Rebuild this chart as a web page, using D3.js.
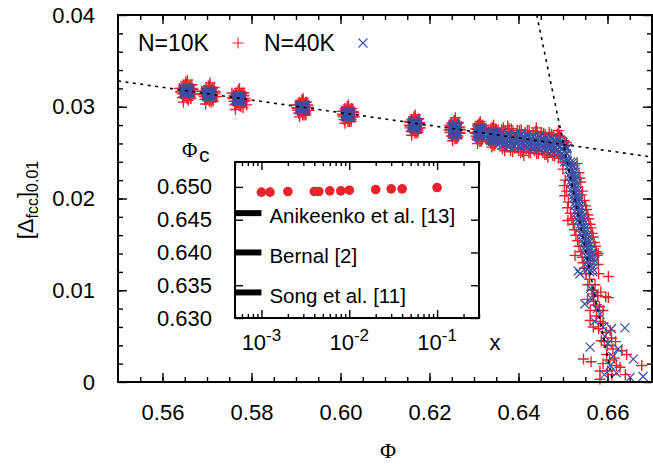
<!DOCTYPE html>
<html>
<head>
<meta charset="utf-8">
<script src="https://cdn.jsdelivr.net/npm/d3@7"></script>
<style>
  body { margin: 0; background: #fff; }
  text { font-family: "Liberation Sans", Arial, Helvetica, sans-serif; fill: #000; }
</style>
</head>
<body>
<div id="chart"></div>
<script>
// ---- data ----
var phiTicks = [0.56, 0.58, 0.60, 0.62, 0.64, 0.66];
var deltaTicks = [0, 0.01, 0.02, 0.03, 0.04];

// N=10K runs, [phi, [Delta_fcc]_0.01]
var n10k = [
  // phi ~ 0.5655
  [0.5655,0.0317],[0.5648,0.0321],[0.5662,0.0313],[0.5641,0.0316],[0.5669,0.0319],[0.5652,0.0327],[0.5658,0.0307],[0.5645,0.0310],
  [0.5666,0.0324],[0.5638,0.0320],[0.5672,0.0314],[0.5650,0.0313],[0.5660,0.0321],[0.5656,0.0329],[0.5647,0.0305],[0.5664,0.0309],
  [0.5668,0.0317],[0.5666,0.0320],[0.5662,0.0323],[0.5655,0.0325],[0.5648,0.0323],[0.5644,0.0320],[0.5642,0.0317],[0.5644,0.0314],
  [0.5648,0.0311],[0.5655,0.0309],[0.5662,0.0311],[0.5666,0.0314],
  // phi ~ 0.5705
  [0.5705,0.0314],[0.5698,0.0318],[0.5712,0.0310],[0.5691,0.0313],[0.5719,0.0316],[0.5703,0.0323],[0.5709,0.0305],[0.5695,0.0308],
  [0.5716,0.0321],[0.5688,0.0317],[0.5722,0.0311],[0.5701,0.0309],[0.5710,0.0319],[0.5707,0.0326],[0.5697,0.0303],[0.5714,0.0306],
  [0.5718,0.0314],[0.5716,0.0317],[0.5712,0.0320],[0.5705,0.0322],[0.5698,0.0320],[0.5694,0.0317],[0.5692,0.0314],[0.5694,0.0311],
  [0.5698,0.0308],[0.5705,0.0306],[0.5712,0.0308],[0.5716,0.0311],
  // phi ~ 0.577
  [0.5772,0.0309],[0.5765,0.0313],[0.5779,0.0305],[0.5758,0.0310],[0.5786,0.0307],[0.5770,0.0318],[0.5776,0.0300],[0.5762,0.0302],
  [0.5783,0.0315],[0.5756,0.0315],[0.5789,0.0302],[0.5768,0.0304],[0.5777,0.0313],[0.5773,0.0320],[0.5764,0.0297],[0.5781,0.0299],
  [0.5785,0.0309],[0.5783,0.0312],[0.5779,0.0315],[0.5772,0.0317],[0.5765,0.0315],[0.5761,0.0312],[0.5759,0.0309],[0.5761,0.0306],
  [0.5765,0.0303],[0.5772,0.0301],[0.5779,0.0303],[0.5783,0.0306],
  // phi ~ 0.5915
  [0.5915,0.0299],[0.5909,0.0303],[0.5921,0.0295],[0.5903,0.0298],[0.5927,0.0301],[0.5913,0.0307],[0.5918,0.0291],[0.5906,0.0293],
  [0.5924,0.0305],[0.5900,0.0302],[0.5929,0.0296],[0.5911,0.0295],[0.5919,0.0303],[0.5916,0.0309],[0.5908,0.0289],[0.5922,0.0291],
  [0.5928,0.0299],[0.5926,0.0302],[0.5922,0.0305],[0.5915,0.0307],[0.5908,0.0305],[0.5904,0.0302],[0.5902,0.0299],[0.5904,0.0296],
  [0.5908,0.0293],[0.5915,0.0291],[0.5922,0.0293],[0.5926,0.0296],
  // phi ~ 0.6017
  [0.6017,0.0292],[0.6011,0.0296],[0.6023,0.0288],[0.6005,0.0291],[0.6029,0.0294],[0.6015,0.0300],[0.6020,0.0284],[0.6008,0.0286],
  [0.6026,0.0298],[0.6003,0.0295],[0.6031,0.0289],[0.6013,0.0288],[0.6021,0.0296],[0.6018,0.0302],[0.6010,0.0282],[0.6024,0.0284],
  [0.6030,0.0292],[0.6028,0.0295],[0.6024,0.0298],[0.6017,0.0300],[0.6010,0.0298],[0.6006,0.0295],[0.6004,0.0292],[0.6006,0.0289],
  [0.6010,0.0286],[0.6017,0.0284],[0.6024,0.0286],[0.6028,0.0289],
  // phi ~ 0.6167
  [0.6167,0.0280],[0.6161,0.0284],[0.6173,0.0276],[0.6156,0.0279],[0.6178,0.0282],[0.6165,0.0289],[0.6170,0.0271],[0.6159,0.0273],
  [0.6176,0.0287],[0.6154,0.0284],[0.6180,0.0277],[0.6163,0.0275],[0.6171,0.0285],[0.6168,0.0291],[0.6160,0.0269],[0.6174,0.0272],
  [0.6180,0.0280],[0.6178,0.0283],[0.6174,0.0286],[0.6167,0.0288],[0.6160,0.0286],[0.6156,0.0283],[0.6154,0.0280],[0.6156,0.0277],
  [0.6160,0.0274],[0.6167,0.0272],[0.6174,0.0274],[0.6178,0.0277],
  // phi ~ 0.6257
  [0.6257,0.0275],[0.6251,0.0279],[0.6263,0.0271],[0.6247,0.0274],[0.6267,0.0277],[0.6255,0.0285],[0.6260,0.0265],[0.6250,0.0268],
  [0.6265,0.0283],[0.6245,0.0280],[0.6269,0.0271],[0.6254,0.0270],[0.6261,0.0281],[0.6258,0.0288],[0.6252,0.0263],[0.6263,0.0266],
  [0.6270,0.0275],[0.6268,0.0278],[0.6264,0.0282],[0.6257,0.0285],[0.6250,0.0282],[0.6246,0.0278],[0.6244,0.0275],[0.6246,0.0272],
  [0.6250,0.0268],[0.6257,0.0265],[0.6264,0.0268],[0.6268,0.0272],
  // phi ~ 0.6313 and 0.6343
  [0.6313,0.0272],[0.6308,0.0276],[0.6318,0.0268],[0.6303,0.0271],[0.6322,0.0274],[0.6311,0.0281],[0.6316,0.0262],[0.6306,0.0265],
  [0.6320,0.0279],[0.6309,0.0267],[0.6317,0.0277],[0.6314,0.0284],[0.6308,0.0260],
  [0.6324,0.0272],[0.6322,0.0276],[0.6318,0.0280],[0.6313,0.0282],[0.6308,0.0280],[0.6304,0.0276],[0.6302,0.0272],[0.6304,0.0268],
  [0.6308,0.0264],[0.6313,0.0262],[0.6318,0.0264],[0.6322,0.0268],
  [0.6343,0.0268],[0.6338,0.0272],[0.6348,0.0264],[0.6334,0.0267],[0.6352,0.0270],[0.6341,0.0277],[0.6346,0.0258],[0.6337,0.0261],
  [0.6350,0.0275],[0.6339,0.0263],[0.6347,0.0273],[0.6344,0.0280],[0.6340,0.0256],
  [0.6354,0.0268],[0.6352,0.0272],[0.6348,0.0276],[0.6343,0.0278],[0.6338,0.0276],[0.6334,0.0272],[0.6332,0.0268],[0.6334,0.0264],
  [0.6338,0.0260],[0.6343,0.0258],[0.6348,0.0260],[0.6352,0.0264],
  // plateau band up to the knee
  [0.6362,0.0275],[0.6370,0.0273],[0.6379,0.0276],[0.6388,0.0272],[0.6397,0.0274],[0.6406,0.0275],[0.6415,0.0272],[0.6424,0.0274],
  [0.6433,0.0271],[0.6442,0.0273],[0.6451,0.0272],[0.6460,0.0270],[0.6469,0.0272],[0.6478,0.0269],[0.6487,0.0270],[0.6495,0.0267],
  [0.6503,0.0263],[0.6511,0.0258],
  [0.6364,0.0254],[0.6373,0.0256],[0.6382,0.0252],[0.6391,0.0255],[0.6400,0.0253],[0.6409,0.0251],[0.6418,0.0254],[0.6427,0.0250],
  [0.6436,0.0252],[0.6445,0.0249],[0.6454,0.0251],[0.6463,0.0248],[0.6472,0.0250],[0.6481,0.0246],[0.6490,0.0244],
  [0.6366,0.0277],[0.6384,0.0276],[0.6402,0.0274],[0.6420,0.0274],[0.6438,0.0273],[0.6456,0.0271],[0.6474,0.0270],[0.6492,0.0268],
  [0.6507,0.0261],
  [0.6369,0.0252],[0.6387,0.0251],[0.6405,0.0250],[0.6423,0.0250],[0.6441,0.0249],[0.6459,0.0248],[0.6477,0.0247],[0.6495,0.0244],
  [0.6500,0.0240],
  [0.6376,0.0279],[0.6412,0.0247],[0.6440,0.0277],[0.6466,0.0245],[0.6490,0.0274],[0.6357,0.0262],[0.6359,0.0270],
  // steep drop
  [0.6532,0.0238],[0.6536,0.0228],[0.6540,0.0218],[0.6544,0.0208],[0.6548,0.0198],[0.6553,0.0188],[0.6558,0.0178],[0.6563,0.0168],
  [0.6568,0.0158],[0.6573,0.0148],[0.6577,0.0138],[0.6579,0.0128],[0.6580,0.0118],
  [0.6500,0.0232],[0.6505,0.0220],[0.6508,0.0208],[0.6512,0.0196],[0.6517,0.0184],[0.6523,0.0172],[0.6529,0.0160],[0.6536,0.0148],
  [0.6543,0.0136],[0.6548,0.0124],
  [0.6538,0.0222],[0.6542,0.0204],[0.6551,0.0192],[0.6556,0.0182],[0.6561,0.0172],[0.6566,0.0162],[0.6570,0.0152],[0.6575,0.0142],
  [0.6503,0.0214],[0.6510,0.0190],[0.6520,0.0178],[0.6526,0.0166],[0.6533,0.0154],[0.6540,0.0142],[0.6545,0.0130],[0.6552,0.0118],
  [0.6511,0.0176],[0.6527,0.0138],[0.6579,0.0140],[0.6602,0.0115],[0.6504,0.0203],
  [0.6560,0.0112],[0.6572,0.0106],[0.6565,0.0100],[0.6578,0.0094],[0.6602,0.0092],[0.6569,0.0088],[0.6582,0.0082],[0.6561,0.0078],
  [0.6575,0.0072],[0.6561,0.0067],[0.6590,0.0064],[0.6580,0.0058],[0.6597,0.0054],[0.6609,0.0048],[0.6586,0.0045],[0.6600,0.0040],
  [0.6612,0.0036],[0.6632,0.0034],[0.6643,0.0030],[0.6546,0.0025],[0.6563,0.0022],[0.6605,0.0024],[0.6620,0.0018],[0.6583,0.0012],
  [0.6628,0.0016],[0.6677,0.0018],[0.6583,0.0003],[0.6610,0.0008],[0.6598,0.0030],
  [0.6556,0.0106],[0.6567,0.0096],[0.6585,0.0098],[0.6573,0.0084],[0.6590,0.0078],[0.6568,0.0060],[0.6584,0.0066],[0.6593,0.0044],
  [0.6606,0.0056],[0.6618,0.0044],[0.6590,0.0020],[0.6616,0.0026],[0.6600,0.0012],[0.6640,0.0008],[0.6596,0.0093],[0.6555,0.0090]
];

// N=40K runs
var n40k = [
  [0.5649,0.0314],[0.5653,0.0314],[0.5657,0.0314],[0.5661,0.0314],[0.5649,0.0316],[0.5653,0.0316],[0.5657,0.0316],[0.5661,0.0316],
  [0.5649,0.0318],[0.5653,0.0318],[0.5657,0.0318],[0.5661,0.0318],[0.5649,0.0320],[0.5653,0.0320],[0.5657,0.0320],[0.5661,0.0320],
  [0.5699,0.0311],[0.5703,0.0311],[0.5707,0.0311],[0.5711,0.0311],[0.5699,0.0313],[0.5703,0.0313],[0.5707,0.0313],[0.5711,0.0313],
  [0.5699,0.0315],[0.5703,0.0315],[0.5707,0.0315],[0.5711,0.0315],[0.5699,0.0317],[0.5703,0.0317],[0.5707,0.0317],[0.5711,0.0317],
  [0.5766,0.0306],[0.5770,0.0306],[0.5774,0.0306],[0.5778,0.0306],[0.5766,0.0308],[0.5770,0.0308],[0.5774,0.0308],[0.5778,0.0308],
  [0.5766,0.0310],[0.5770,0.0310],[0.5774,0.0310],[0.5778,0.0310],[0.5766,0.0312],[0.5770,0.0312],[0.5774,0.0312],[0.5778,0.0312],
  [0.5909,0.0296],[0.5913,0.0296],[0.5917,0.0296],[0.5921,0.0296],[0.5909,0.0298],[0.5913,0.0298],[0.5917,0.0298],[0.5921,0.0298],
  [0.5909,0.0300],[0.5913,0.0300],[0.5917,0.0300],[0.5921,0.0300],[0.5909,0.0302],[0.5913,0.0302],[0.5917,0.0302],[0.5921,0.0302],
  [0.6011,0.0289],[0.6015,0.0289],[0.6019,0.0289],[0.6023,0.0289],[0.6011,0.0291],[0.6015,0.0291],[0.6019,0.0291],[0.6023,0.0291],
  [0.6011,0.0293],[0.6015,0.0293],[0.6019,0.0293],[0.6023,0.0293],[0.6011,0.0295],[0.6015,0.0295],[0.6019,0.0295],[0.6023,0.0295],
  [0.6161,0.0277],[0.6165,0.0277],[0.6169,0.0277],[0.6173,0.0277],[0.6161,0.0279],[0.6165,0.0279],[0.6169,0.0279],[0.6173,0.0279],
  [0.6161,0.0281],[0.6165,0.0281],[0.6169,0.0281],[0.6173,0.0281],[0.6161,0.0283],[0.6165,0.0283],[0.6169,0.0283],[0.6173,0.0283],
  [0.6167,0.0285],[0.6167,0.0275],
  [0.6251,0.0270],[0.6255,0.0270],[0.6259,0.0270],[0.6263,0.0270],[0.6251,0.0273],[0.6255,0.0273],[0.6259,0.0273],[0.6263,0.0273],
  [0.6251,0.0276],[0.6255,0.0276],[0.6259,0.0276],[0.6263,0.0276],[0.6251,0.0279],[0.6255,0.0279],[0.6259,0.0279],[0.6263,0.0279],
  [0.6257,0.0282],[0.6257,0.0267],
  [0.6307,0.0268],[0.6311,0.0268],[0.6315,0.0268],[0.6319,0.0268],[0.6307,0.0271],[0.6311,0.0271],[0.6315,0.0271],[0.6319,0.0271],
  [0.6307,0.0274],[0.6311,0.0274],[0.6315,0.0274],[0.6319,0.0274],[0.6307,0.0277],[0.6311,0.0277],[0.6315,0.0277],[0.6319,0.0277],
  [0.6337,0.0263],[0.6341,0.0263],[0.6345,0.0263],[0.6349,0.0263],[0.6337,0.0266],[0.6341,0.0266],[0.6345,0.0266],[0.6349,0.0266],
  [0.6337,0.0269],[0.6341,0.0269],[0.6345,0.0269],[0.6349,0.0269],[0.6337,0.0272],[0.6341,0.0272],[0.6345,0.0272],[0.6349,0.0272],
  // plateau band
  [0.6360,0.0269],[0.6360,0.0265],[0.6360,0.0261],[0.6367,0.0268],[0.6367,0.0264],[0.6367,0.0260],[0.6374,0.0268],[0.6374,0.0264],[0.6374,0.0260],
  [0.6381,0.0268],[0.6381,0.0264],[0.6381,0.0260],[0.6388,0.0267],[0.6388,0.0263],[0.6388,0.0259],[0.6395,0.0268],[0.6395,0.0263],[0.6395,0.0259],
  [0.6402,0.0267],[0.6402,0.0263],[0.6402,0.0258],[0.6409,0.0267],[0.6409,0.0262],[0.6409,0.0258],[0.6416,0.0266],[0.6416,0.0262],[0.6416,0.0258],
  [0.6423,0.0266],[0.6423,0.0262],[0.6423,0.0258],[0.6430,0.0266],[0.6430,0.0261],[0.6430,0.0257],[0.6437,0.0265],[0.6437,0.0261],[0.6437,0.0257],
  [0.6444,0.0265],[0.6444,0.0261],[0.6444,0.0257],[0.6451,0.0265],[0.6451,0.0260],[0.6451,0.0256],[0.6458,0.0264],[0.6458,0.0260],[0.6458,0.0256],
  [0.6465,0.0264],[0.6465,0.0260],[0.6465,0.0255],[0.6472,0.0263],[0.6472,0.0259],[0.6472,0.0255],[0.6479,0.0263],[0.6479,0.0258],[0.6479,0.0254],
  [0.6486,0.0262],[0.6486,0.0258],[0.6486,0.0253],[0.6492,0.0261],[0.6492,0.0256],[0.6492,0.0251],[0.6498,0.0259],[0.6498,0.0254],[0.6498,0.0249],
  [0.6503,0.0257],[0.6503,0.0252],[0.6503,0.0246],[0.6508,0.0254],[0.6508,0.0249],[0.6508,0.0243],
  [0.6363,0.0272],[0.6377,0.0271],[0.6391,0.0270],[0.6405,0.0270],[0.6419,0.0269],[0.6433,0.0268],[0.6447,0.0268],[0.6461,0.0267],
  [0.6475,0.0266],[0.6489,0.0264],[0.6500,0.0261],[0.6510,0.0255],
  [0.6363,0.0258],[0.6377,0.0257],[0.6391,0.0257],[0.6405,0.0256],[0.6419,0.0255],[0.6433,0.0254],[0.6447,0.0254],[0.6461,0.0253],
  [0.6475,0.0252],[0.6489,0.0250],[0.6500,0.0247],[0.6510,0.0241],
  // steep drop, dense part
  [0.6503,0.0240],[0.6510,0.0240],[0.6517,0.0240],[0.6523,0.0240],[0.6513,0.0232],[0.6520,0.0232],[0.6527,0.0232],
  [0.6515,0.0224],[0.6522,0.0224],[0.6529,0.0224],[0.6518,0.0216],[0.6525,0.0216],[0.6531,0.0216],
  [0.6520,0.0208],[0.6527,0.0208],[0.6533,0.0208],[0.6523,0.0200],[0.6530,0.0200],[0.6536,0.0200],
  [0.6526,0.0192],[0.6533,0.0192],[0.6539,0.0192],[0.6530,0.0184],[0.6537,0.0184],[0.6543,0.0184],
  [0.6534,0.0176],[0.6541,0.0176],[0.6547,0.0176],[0.6538,0.0168],[0.6545,0.0168],[0.6551,0.0168],
  [0.6542,0.0160],[0.6549,0.0160],[0.6555,0.0160],[0.6546,0.0152],[0.6553,0.0152],[0.6558,0.0152],
  [0.6550,0.0144],[0.6557,0.0144],[0.6562,0.0144],[0.6554,0.0136],[0.6561,0.0136],[0.6566,0.0136],
  [0.6557,0.0128],[0.6564,0.0128],[0.6560,0.0120],[0.6567,0.0120],
  [0.6514,0.0236],[0.6522,0.0236],[0.6517,0.0228],[0.6525,0.0228],[0.6519,0.0220],[0.6527,0.0220],[0.6522,0.0212],[0.6530,0.0212],
  [0.6524,0.0204],[0.6532,0.0204],[0.6527,0.0196],[0.6535,0.0196],[0.6531,0.0188],[0.6539,0.0188],[0.6535,0.0180],[0.6543,0.0180],
  [0.6539,0.0172],[0.6547,0.0172],[0.6543,0.0164],[0.6551,0.0164],[0.6547,0.0156],[0.6555,0.0156],[0.6551,0.0148],[0.6559,0.0148],
  [0.6555,0.0140],[0.6563,0.0140],[0.6557,0.0132],[0.6565,0.0132],[0.6558,0.0124],[0.6566,0.0124],
  // steep drop, scattered tail
  [0.6534,0.0121],[0.6538,0.0118],[0.6572,0.0132],[0.6549,0.0085],[0.6562,0.0102],[0.6570,0.0096],[0.6566,0.0090],[0.6577,0.0080],
  [0.6583,0.0074],[0.6571,0.0066],[0.6590,0.0060],[0.6594,0.0050],[0.6609,0.0058],[0.6639,0.0059],[0.6561,0.0038],[0.6601,0.0042],
  [0.6624,0.0036],[0.6658,0.0025],[0.6612,0.0028],[0.6606,0.0018],[0.6651,0.0005],[0.6680,0.0006],[0.6620,0.0010],[0.6593,0.0008]
];

// dotted guide lines
var plateauFit = [[0.55, 0.03281], [0.67, 0.02452]];
var dropFit = [[0.6441, 0.04], [0.6612, 0.0]];

// inset: phi_c against x
var insetX = [0.001, 0.00125, 0.002, 0.004, 0.0045, 0.006, 0.008, 0.01, 0.02, 0.03, 0.04, 0.1];
var insetPhiC = [0.6492, 0.6492, 0.6493, 0.6493, 0.6493, 0.6494, 0.6494, 0.6495, 0.6496, 0.6497, 0.6497, 0.6499];
var refNames = ["Anikeenko et al. [13]", "Bernal [2]", "Song et al. [11]"];
var refPhi = [0.6460, 0.6400, 0.6339];
var insetPhiTicks = [0.630, 0.635, 0.640, 0.645, 0.650];
var insetXTicks = [1e-3, 1e-2, 1e-1];

// ---- drawing ----
var W = 653, H = 464;
var red = "#e8232b", blue = "#3b4ea4";

var svg = d3.select("#chart").append("svg")
    .attr("width", W).attr("height", H);

var x = d3.scaleLinear().domain([0.55, 0.67]).range([118, 652]);
var y = d3.scaleLinear().domain([0, 0.04]).range([382, 15]);

var plusPath = "M-5.5,0H5.5M0,-5.5V5.5";
var crossPath = "M-4.5,-4.5L4.5,4.5M-4.5,4.5L4.5,-4.5";

// axes helper: draws ticks only, no domain line
function addAxis(axis, tr, fontSize) {
    var g = svg.append("g").attr("transform", tr).call(axis);
    g.select(".domain").remove();
    g.selectAll("line").attr("stroke", "#000").attr("stroke-width", 1.4);
    g.attr("font-family", null).attr("font-size", null);
    g.selectAll("text").style("font-size", (fontSize || 22) + "px");
    return g;
}

var phiMinor = d3.range(111, 134).map(function(i) { return i * 0.005; });
var deltaMinor = d3.range(1, 20).map(function(i) { return i * 0.002; });

addAxis(d3.axisBottom(x).tickValues(phiMinor).tickSize(-5).tickFormat(""), "translate(0,382)");
addAxis(d3.axisBottom(x).tickValues(phiTicks).tickSize(-9).tickPadding(22).tickFormat(d3.format(".2f")), "translate(0,382)");
addAxis(d3.axisTop(x).tickValues(phiMinor).tickSize(-5).tickFormat(""), "translate(0,15)");
addAxis(d3.axisTop(x).tickValues(phiTicks).tickSize(-9).tickFormat(""), "translate(0,15)");
addAxis(d3.axisLeft(y).tickValues(deltaMinor).tickSize(-5).tickFormat(""), "translate(118,0)");
addAxis(d3.axisLeft(y).tickValues(deltaTicks).tickSize(-9).tickPadding(23)
    .tickFormat(function(d) { return d === 0 ? "0" : d3.format(".2f")(d); }), "translate(118,0)");
addAxis(d3.axisRight(y).tickValues(deltaMinor).tickSize(-5).tickFormat(""), "translate(652,0)");
addAxis(d3.axisRight(y).tickValues(deltaTicks).tickSize(-9).tickFormat(""), "translate(652,0)");

// points: N=10K first, N=40K on top
svg.append("g").selectAll("path")
    .data(n10k)
    .join("path")
    .attr("transform", function(d) { return "translate(" + x(d[0]) + "," + y(d[1]) + ")"; })
    .attr("d", plusPath)
    .attr("stroke", red).attr("stroke-width", 1.4).attr("fill", "none");

svg.append("g").selectAll("path")
    .data(n40k)
    .join("path")
    .attr("transform", function(d) { return "translate(" + x(d[0]) + "," + y(d[1]) + ")"; })
    .attr("d", crossPath)
    .attr("stroke", blue).attr("stroke-width", 1.2).attr("fill", "none");

// dotted fit lines
var line = d3.line().x(function(d) { return x(d[0]); }).y(function(d) { return y(d[1]); });
[plateauFit, dropFit].forEach(function(f) {
    svg.append("path")
        .attr("d", line(f))
        .attr("fill", "none")
        .attr("stroke", "#000")
        .attr("stroke-width", 1.6)
        .attr("stroke-dasharray", "3,4.5");
});

// frame
svg.append("rect")
    .attr("x", 118).attr("y", 15).attr("width", 534).attr("height", 367)
    .attr("fill", "none").attr("stroke", "#000").attr("stroke-width", 2);

// legend
svg.append("text").attr("x", 138).attr("y", 51).style("font-size", "23px").text("N=10K");
svg.append("path").attr("transform", "translate(238,43)").attr("d", plusPath)
    .attr("stroke", red).attr("stroke-width", 1.1).attr("fill", "none");
svg.append("text").attr("x", 264).attr("y", 51).style("font-size", "23px").text("N=40K");
svg.append("path").attr("transform", "translate(363,43)").attr("d", crossPath)
    .attr("stroke", blue).attr("stroke-width", 1.1).attr("fill", "none");

// axis titles
svg.append("text")
    .attr("x", 388).attr("y", 458)
    .attr("text-anchor", "middle")
    .style("font-family", "'Liberation Serif', 'Times New Roman', serif")
    .style("font-size", "22px")
    .text("Φ");

var ylab = svg.append("text")
    .attr("transform", "translate(33,200) rotate(-90)")
    .attr("text-anchor", "middle")
    .style("font-size", "22px");
ylab.append("tspan").text("[Δ");
ylab.append("tspan").attr("dy", 5).style("font-size", "16px").text("fcc");
ylab.append("tspan").attr("dy", -5).text("]");
ylab.append("tspan").attr("dy", 5).style("font-size", "16px").text("0.01");

// ---- inset ----
var xi = d3.scaleLog().domain([5e-4, 0.3]).range([235, 479]);
var yi = d3.scaleLinear().domain([0.63, 0.6538]).range([318, 162]);

svg.append("rect")
    .attr("x", 235).attr("y", 162).attr("width", 244).attr("height", 156)
    .attr("fill", "#fff");

var logMinor = xi.ticks().filter(function(d) { return insetXTicks.indexOf(d) < 0; });

addAxis(d3.axisBottom(xi).tickValues(logMinor).tickSize(-4).tickFormat(""), "translate(0,318)");
addAxis(d3.axisBottom(xi).tickValues(insetXTicks).tickSize(-8).tickFormat(""), "translate(0,318)");
addAxis(d3.axisTop(xi).tickValues(logMinor).tickSize(-4).tickFormat(""), "translate(0,162)");
addAxis(d3.axisTop(xi).tickValues(insetXTicks).tickSize(-8).tickFormat(""), "translate(0,162)");
addAxis(d3.axisLeft(yi).tickValues(insetPhiTicks).tickSize(-8).tickPadding(23).tickFormat(d3.format(".3f")), "translate(235,0)");
addAxis(d3.axisRight(yi).tickValues(insetPhiTicks).tickSize(-8).tickFormat(""), "translate(479,0)");

// log tick labels 10^n
var xl = svg.append("g").selectAll("text")
    .data(insetXTicks)
    .join("text")
    .attr("x", function(d) { return xi(d); })
    .attr("y", 350)
    .attr("text-anchor", "middle")
    .style("font-size", "22px");
xl.append("tspan").text("10");
xl.append("tspan").attr("dy", -9).style("font-size", "17px")
    .text(function(d) { return "-" + Math.round(-Math.log10(d)); });

svg.append("text").attr("x", 495).attr("y", 350).attr("text-anchor", "middle")
    .style("font-size", "22px").text("x");

// literature values as thick bars on the left
svg.append("g").selectAll("line")
    .data(refPhi)
    .join("line")
    .attr("x1", xi(5e-4)).attr("x2", xi(1e-3))
    .attr("y1", function(d) { return yi(d); }).attr("y2", function(d) { return yi(d); })
    .attr("stroke", "#000").attr("stroke-width", 6);

svg.append("g").selectAll("text")
    .data(refNames)
    .join("text")
    .attr("x", xi(1e-3) + 8)
    .attr("y", function(d, i) { return yi(refPhi[i]) + 3; })
    .attr("dy", "0.35em")
    .style("font-size", "20.5px")
    .text(function(d) { return d; });

// phi_c points
svg.append("g").selectAll("circle")
    .data(insetX)
    .join("circle")
    .attr("cx", function(d) { return xi(d); })
    .attr("cy", function(d, i) { return yi(insetPhiC[i]); })
    .attr("r", 4.8)
    .attr("fill", red);

svg.append("rect")
    .attr("x", 235).attr("y", 162).attr("width", 244).attr("height", 156)
    .attr("fill", "none").attr("stroke", "#000").attr("stroke-width", 2);

// inset y title
svg.append("text").attr("x", 182).attr("y", 157)
    .style("font-family", "'Liberation Serif', 'Times New Roman', serif")
    .style("font-size", "21px").text("Φ");
svg.append("text").attr("x", 199).attr("y", 162)
    .style("font-size", "21px").text("c");
</script>
</body>
</html>
